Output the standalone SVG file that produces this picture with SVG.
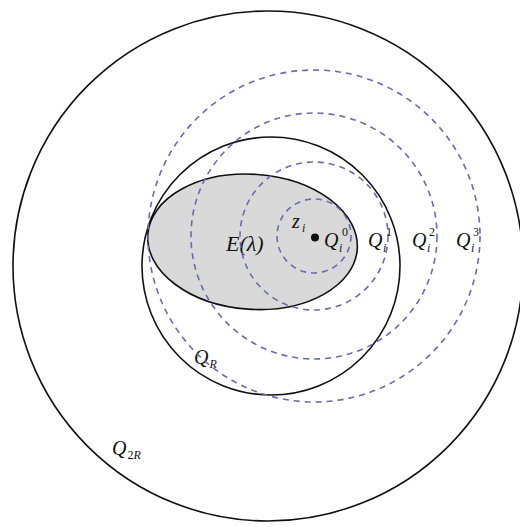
<svg xmlns="http://www.w3.org/2000/svg" width="520" height="527" viewBox="0 0 520 527">
<style>
.solid{fill:none;stroke:#111;stroke-width:1.6}
.dash{fill:none;stroke:#6a6ab4;stroke-width:1.6;stroke-dasharray:6 5}
.t{font-family:"Liberation Serif","Times New Roman",serif;font-style:italic;fill:#111}
.big{font-size:22px}
.q{font-size:20px}
.s{font-size:12px}
.up{font-style:normal}
</style>
<rect width="520" height="527" fill="#fff"/>
<g id="Q2R">
<circle class="solid" cx="268" cy="266" r="255"/>
<text class="t q" x="112" y="455">Q</text><text class="t s" x="127.5" y="459"><tspan class="up">2</tspan>R</text>
</g>
<g id="QR">
<circle class="solid" cx="271" cy="266" r="129"/>
<text class="t q" x="194" y="364">Q</text><text class="t s" x="209.5" y="368">R</text>
</g>
<g id="E">
<ellipse cx="252.5" cy="241.8" rx="105" ry="67.5" transform="rotate(4 252.5 241.8)" fill="#d9d9d9" stroke="#111" stroke-width="1.6"/>
<text class="t big" x="226" y="251">E(λ)</text>
</g>
<g id="connectors">
<circle class="dash" cx="314" cy="236" r="37"/>
<circle class="dash" cx="314" cy="236" r="74"/>
<circle class="dash" cx="314" cy="236" r="123"/>
<circle class="dash" cx="314" cy="236" r="166"/>
</g>
<g id="zi">
<circle cx="315" cy="237.5" r="4" fill="#111"/>
<text class="t q" x="292" y="228">z</text><text class="t s" x="302" y="232">i</text>
</g>
<g id="Q0">
<text class="t q" x="324" y="247">Q</text><text class="t s" x="339" y="252">i</text><text class="t s up" x="342" y="236">0</text>
</g>
<g id="Q1">
<text class="t q" x="368" y="247">Q</text><text class="t s" x="383" y="252">i</text><text class="t s up" x="386" y="236">1</text>
</g>
<g id="Q2">
<text class="t q" x="412" y="247">Q</text><text class="t s" x="427" y="252">i</text><text class="t s up" x="429" y="236">2</text>
</g>
<g id="Q3">
<text class="t q" x="456" y="247">Q</text><text class="t s" x="471" y="252">i</text><text class="t s up" x="473" y="236">3</text>
</g>
</svg>
